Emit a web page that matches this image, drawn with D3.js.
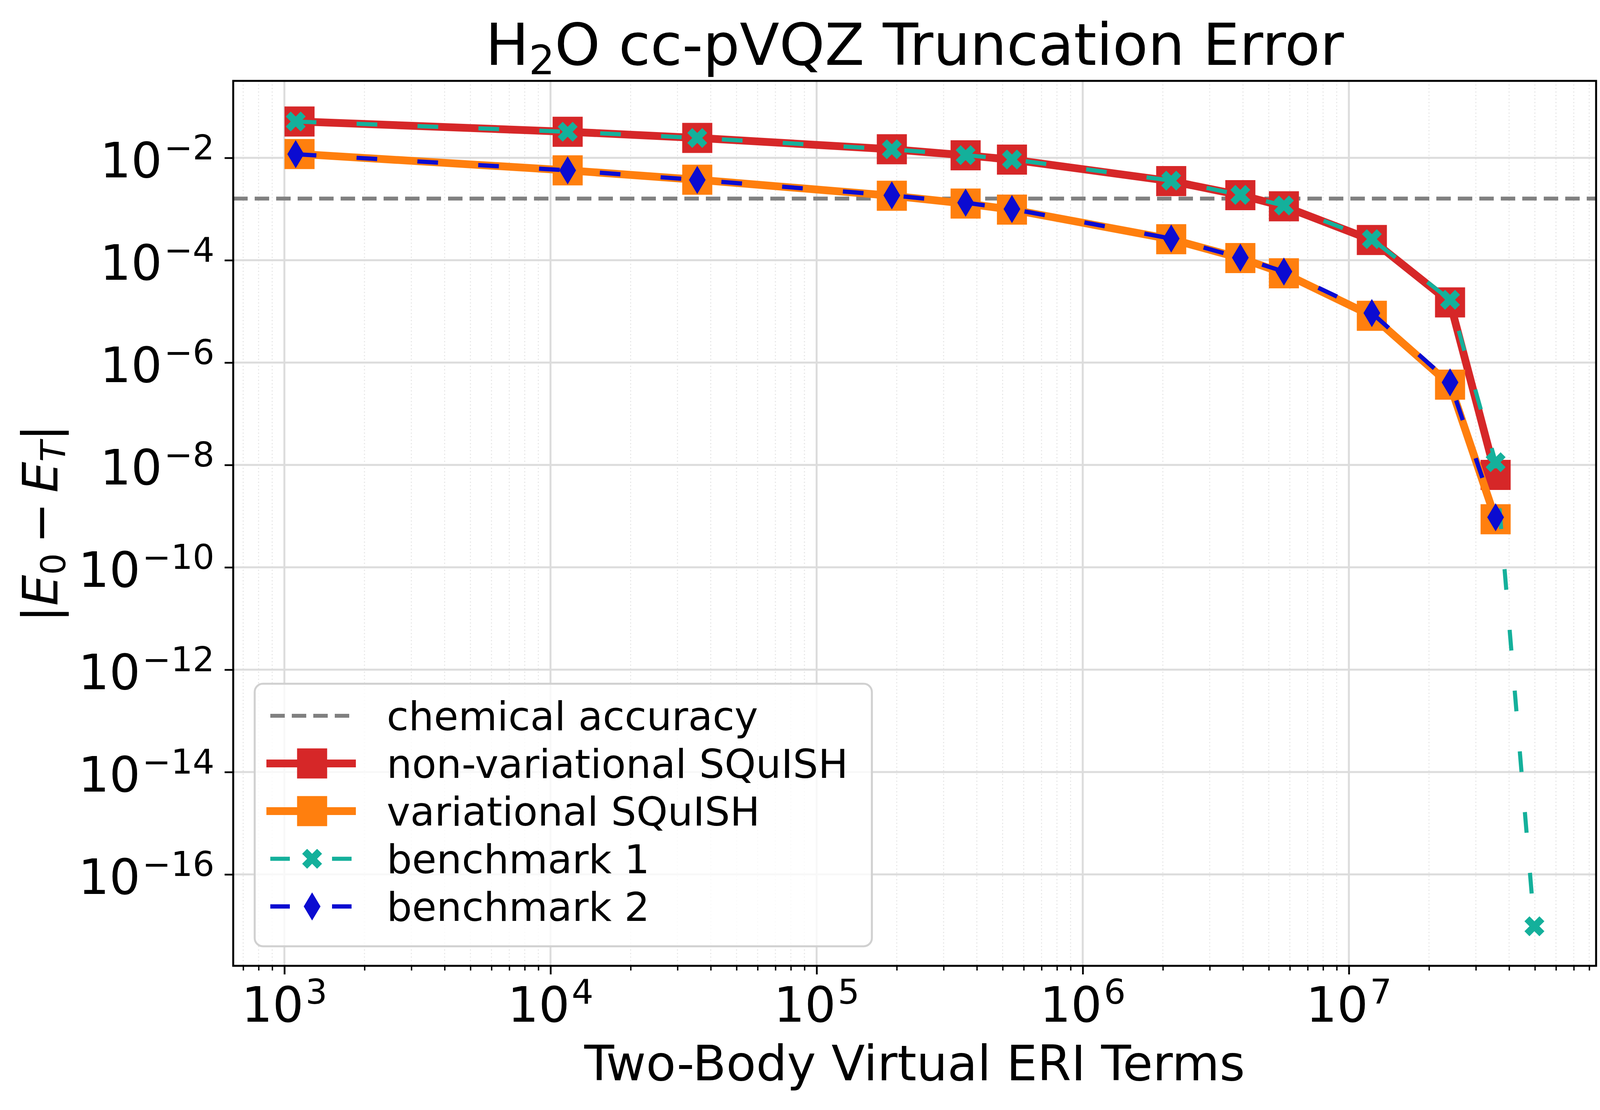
<!DOCTYPE html>
<html lang="en">
<head>
    <meta charset="UTF-8">
    <title>H2O cc-pVQZ Truncation Error</title>
    <script src="https://d3js.org/d3.v7.min.js"></script>
    <style>
        body { margin: 0; background: #ffffff; }
        svg { display: block; font-family: "DejaVu Sans", sans-serif; }
        text { white-space: pre; }
    </style>
</head>
<body>
    <div id="chart"></div>

    <script>
        // number of two-body virtual ERI terms kept
        const eriTerms = [1140, 11600, 35600, 191700, 363000, 542000, 2150000, 3910000, 5700000, 12200000, 24000000, 35600000];
        const nonVariational = [0.0513, 0.0324, 0.0245, 0.0147, 0.0112, 0.00924, 0.00351, 0.00187, 0.00113, 2.48e-4, 1.50e-5, 6.4e-9];
        const variational = [0.0119, 0.0057, 0.00374, 0.00182, 0.00128, 0.000975, 0.000257, 0.000110, 5.55e-5, 8.2e-6, 3.7e-7, 8.7e-10];

        const bench1Terms = [1103, 11600, 35600, 191700, 363000, 542000, 2150000, 3910000, 5700000, 12200000, 24000000, 35600000, 49800000];
        const benchmark1 = [0.0513, 0.0324, 0.0245, 0.0147, 0.0113, 0.0093, 0.0036, 0.00189, 0.00117, 2.58e-4, 1.69e-5, 1.13e-8, 9.7e-18];
        const bench2Terms = [1103, 11600, 35600, 191700, 363000, 542000, 2150000, 3910000, 5700000, 12200000, 24000000, 35600000];
        const benchmark2 = [0.0118, 0.0057, 0.0037, 0.00185, 0.00133, 0.00100, 0.000265, 0.000112, 6.0e-5, 9.3e-6, 4.1e-7, 9.5e-10];

        const chemicalAccuracy = 1.6e-3;

        const xTickExps = [3, 4, 5, 6, 7];
        const yTickExps = [-2, -4, -6, -8, -10, -12, -14, -16];

        const width = 4134;
        const height = 2841;
        const margin = { top: 207, right: 48, bottom: 369, left: 597 };
        const innerW = width - margin.left - margin.right;
        const innerH = height - margin.top - margin.bottom;

        const colors = {
            red: "#d62728",
            orange: "#ff7f0e",
            teal: "#14b09b",
            blue: "#0b0bd1",
            gray: "#808080"
        };

        const svg = d3.select("#chart").append("svg")
            .attr("width", width)
            .attr("height", height);

        const g = svg.append("g")
            .attr("transform", "translate(" + margin.left + "," + margin.top + ")");

        // scales (log, with matplotlib-like margins)
        const x = d3.scaleLog()
            .domain([Math.pow(10, 2.8077), Math.pow(10, 7.929)])
            .range([0, innerW]);

        const y = d3.scaleLog()
            .domain([Math.pow(10, -17.786), Math.pow(10, -0.496)])
            .range([innerH, 0]);

        const xMajor = xTickExps.map(e => Math.pow(10, e));
        const yMajor = yTickExps.map(e => Math.pow(10, e));
        const xMinor = [];
        for (let k = 2; k <= 7; k++) {
            for (let m = 2; m <= 9; m++) {
                const v = m * Math.pow(10, k);
                if (v > x.domain()[0] && v < x.domain()[1]) xMinor.push(v);
            }
        }

        // grid
        g.append("g").selectAll("line")
            .data(xMinor)
            .join("line")
            .attr("x1", d => x(d)).attr("x2", d => x(d))
            .attr("y1", 0).attr("y2", innerH)
            .attr("stroke", "#e3e3e3")
            .attr("stroke-width", 2.5)
            .attr("stroke-dasharray", "3 6");

        g.append("g").selectAll("line")
            .data(xMajor)
            .join("line")
            .attr("x1", d => x(d)).attr("x2", d => x(d))
            .attr("y1", 0).attr("y2", innerH)
            .attr("stroke", "#dcdcdc")
            .attr("stroke-width", 5);

        g.append("g").selectAll("line")
            .data(yMajor)
            .join("line")
            .attr("x1", 0).attr("x2", innerW)
            .attr("y1", d => y(d)).attr("y2", d => y(d))
            .attr("stroke", "#dcdcdc")
            .attr("stroke-width", 5);

        // chemical accuracy
        g.append("line")
            .attr("x1", 0).attr("x2", innerW)
            .attr("y1", y(chemicalAccuracy)).attr("y2", y(chemicalAccuracy))
            .attr("stroke", colors.gray)
            .attr("stroke-width", 10)
            .attr("stroke-dasharray", "37 18");

        const line = d3.line()
            .x(d => x(d[0]))
            .y(d => y(d[1]));

        // marker shapes
        const sq = 77;
        const squarePath = `M${-sq / 2},${-sq / 2}H${sq / 2}V${sq / 2}H${-sq / 2}Z`;
        const xs = 51 / 4;
        const xPts = [[-1, -2], [0, -1], [1, -2], [2, -1], [1, 0], [2, 1], [1, 2], [0, 1], [-1, 2], [-2, 1], [-1, 0], [-2, -1]];
        const xPath = "M" + xPts.map(p => (p[0] * xs) + "," + (p[1] * xs)).join("L") + "Z";
        const diamondPath = "M0,-36L21.5,0L0,36L-21.5,0Z";

        function drawSeries(terms, values, opts) {
            const pts = d3.zip(terms, values);
            g.append("path")
                .datum(pts)
                .attr("fill", "none")
                .attr("stroke", opts.color)
                .attr("stroke-width", opts.lw)
                .attr("stroke-linejoin", "round")
                .attr("stroke-dasharray", opts.dash || null)
                .attr("d", line);
            g.append("g").selectAll("path")
                .data(pts)
                .join("path")
                .attr("d", opts.marker)
                .attr("transform", d => "translate(" + x(d[0]) + "," + y(d[1]) + ")")
                .attr("fill", opts.color);
        }

        drawSeries(eriTerms, nonVariational, { color: colors.red, lw: 20, marker: squarePath });
        drawSeries(eriTerms, variational, { color: colors.orange, lw: 20, marker: squarePath });
        drawSeries(bench1Terms, benchmark1, { color: colors.teal, lw: 10.5, dash: "53 103", marker: xPath });
        drawSeries(bench2Terms, benchmark2, { color: colors.blue, lw: 11, dash: "53 103", marker: diamondPath });

        // axes
        const xAxisMajor = g.append("g")
            .attr("transform", "translate(0," + innerH + ")")
            .call(d3.axisBottom(x).tickValues(xMajor).tickSize(22).tickSizeOuter(0).tickFormat(() => ""));
        const xAxisMinor = g.append("g")
            .attr("transform", "translate(0," + innerH + ")")
            .call(d3.axisBottom(x).tickValues(xMinor).tickSize(12).tickSizeOuter(0).tickFormat(() => ""));
        const yAxis = g.append("g")
            .call(d3.axisLeft(y).tickValues(yMajor).tickSize(22).tickSizeOuter(0).tickFormat(() => ""));

        [xAxisMajor, yAxis].forEach(a => a.selectAll(".tick line").attr("stroke-width", 4.5));
        xAxisMinor.selectAll(".tick line").attr("stroke-width", 3.5);
        [xAxisMajor, xAxisMinor, yAxis].forEach(a => a.select(".domain").remove());

        function powerLabel(sel, exp, size) {
            sel.append("tspan").text("10");
            sel.append("tspan")
                .attr("dx", 5)
                .attr("dy", -0.37 * size)
                .attr("font-size", 0.7 * size)
                .text(exp < 0 ? "\u2212" + (-exp) : String(exp));
        }

        g.append("g").selectAll("text")
            .data(xTickExps)
            .join("text")
            .attr("x", d => x(Math.pow(10, d)))
            .attr("y", innerH + 143)
            .attr("text-anchor", "middle")
            .attr("font-size", 125)
            .each(function(d) { powerLabel(d3.select(this), d, 125); });

        g.append("g").selectAll("text")
            .data(yTickExps)
            .join("text")
            .attr("x", -48)
            .attr("y", d => y(Math.pow(10, d)) + 50)
            .attr("text-anchor", "end")
            .attr("font-size", 125)
            .each(function(d) { powerLabel(d3.select(this), d, 125); });

        // frame
        g.append("rect")
            .attr("x", 0).attr("y", 0)
            .attr("width", innerW).attr("height", innerH)
            .attr("fill", "none")
            .attr("stroke", "#000")
            .attr("stroke-width", 5);

        // title
        const title = svg.append("text")
            .attr("x", margin.left + innerW / 2)
            .attr("y", 166)
            .attr("text-anchor", "middle")
            .attr("font-size", 148);
        title.append("tspan").text("H");
        title.append("tspan").attr("font-size", 104).attr("dy", 24).text("2");
        title.append("tspan").attr("dy", -24).text("O cc-pVQZ Truncation Error");

        // x label
        svg.append("text")
            .attr("x", margin.left + innerW / 2)
            .attr("y", 2765)
            .attr("text-anchor", "middle")
            .attr("font-size", 125)
            .text("Two-Body Virtual ERI Terms");

        // y label
        const yl = svg.append("text")
            .attr("transform", "translate(147," + (margin.top + innerH / 2) + ") rotate(-90)")
            .attr("text-anchor", "middle")
            .attr("font-size", 125);
        yl.append("tspan").text("|");
        yl.append("tspan").attr("font-style", "italic").text("E");
        yl.append("tspan").attr("font-size", 87.5).attr("dy", 20).text("0");
        yl.append("tspan").attr("dy", -20).text("\u2009\u2212\u2009");
        yl.append("tspan").attr("font-style", "italic").text("E");
        yl.append("tspan").attr("font-style", "italic").attr("font-size", 87.5).attr("dy", 20).text("T");
        yl.append("tspan").attr("dy", -20).text("|");

        // legend
        const legendItems = [
            { label: "chemical accuracy", color: colors.gray, lw: 10, dash: "37 18", marker: null },
            { label: "non-variational SQuISH", color: colors.red, lw: 20, dash: null, marker: squarePath },
            { label: "variational SQuISH", color: colors.orange, lw: 20, dash: null, marker: squarePath },
            { label: "benchmark 1", color: colors.teal, lw: 10.5, dash: "50 108", marker: xPath },
            { label: "benchmark 2", color: colors.blue, lw: 11, dash: "50 108", marker: diamondPath }
        ];

        const legend = svg.append("g")
            .attr("transform", "translate(" + (margin.left + 55) + "," + (margin.top + innerH - 50 - 672) + ")");

        legend.append("rect")
            .attr("x", 0).attr("y", 0)
            .attr("width", 1580).attr("height", 672)
            .attr("rx", 21).attr("ry", 21)
            .attr("fill", "#ffffff")
            .attr("fill-opacity", 0.8)
            .attr("stroke", "#d0d0d0")
            .attr("stroke-width", 5);

        const rows = legend.selectAll("g.row")
            .data(legendItems)
            .join("g")
            .attr("class", "row")
            .attr("transform", (d, i) => "translate(0," + (82 + i * 122) + ")");

        rows.append("line")
            .attr("x1", d => d.dash ? 40 : 30).attr("x2", 259)
            .attr("y1", 0).attr("y2", 0)
            .attr("stroke", d => d.color)
            .attr("stroke-width", d => d.lw)
            .attr("stroke-dasharray", d => d.dash);

        rows.filter(d => d.marker)
            .append("path")
            .attr("d", d => d.marker)
            .attr("transform", "translate(147,0)")
            .attr("fill", d => d.color);

        rows.append("text")
            .attr("x", 338)
            .attr("y", 37)
            .attr("font-size", 102)
            .text(d => d.label);
    </script>
</body>
</html>
